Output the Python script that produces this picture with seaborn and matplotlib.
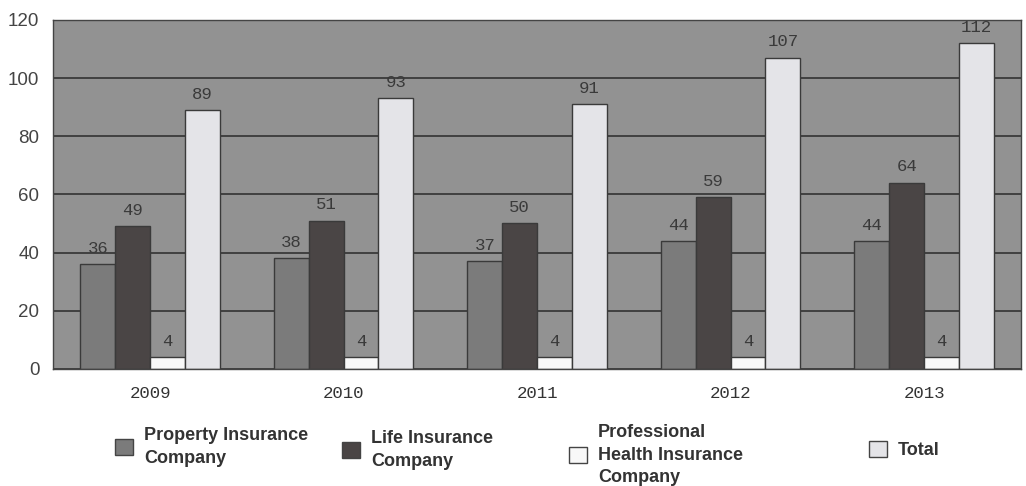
import numpy as np
import matplotlib as mpl
mpl.use('Agg')

import matplotlib.pyplot as plt
import seaborn as sns
import pandas as pd
from matplotlib.patches import Patch

# values
years = ['2009', '2010', '2011', '2012', '2013']
property_ins = [36, 38, 37, 44, 44]
life_ins = [49, 51, 50, 59, 64]
health_ins = [4, 4, 4, 4, 4]
total = [89, 93, 91, 107, 112]
series = ['Property Insurance\nCompany', 'Life Insurance\nCompany',
          'Professional\nHealth Insurance\nCompany', 'Total']
colors = ['#7b7b7b', '#4a4545', '#f8f8f8', '#e4e4e8']

df = pd.DataFrame({
    'Year': years * 4,
    'Value': property_ins + life_ins + health_ins + total,
    'Series': np.repeat(series, len(years)),
})

sns.set_style('white')
fig = plt.figure(figsize=(10.26, 4.86), dpi=100)
ax = fig.add_axes([0.052, 0.241, 0.943, 0.718])
ax.set_facecolor('#929292')

sns.barplot(data=df, x='Year', y='Value', hue='Series', hue_order=series,
            palette=colors, width=0.72, gap=0, edgecolor='#3a3a3a',
            linewidth=1, ax=ax, legend=False, saturation=1)

for cont in ax.containers:
    ax.bar_label(cont, padding=6, fontsize=12.5, family='Liberation Mono', color='#3a3a3a')

ax.set_ylim(0, 120)
ax.set_yticks(range(0, 121, 20))
ax.set_xlim(-0.5, 4.5)
ax.yaxis.grid(True, color='#3a3a3a', lw=1.3)
ax.set_axisbelow(True)
ax.set_xlabel('')
ax.set_ylabel('')

ax.tick_params(axis='y', length=0, pad=10, labelsize=13.5, labelcolor='#444444')
ax.tick_params(axis='x', length=0, pad=12, labelsize=12.5, labelcolor='#333333')
for lbl in ax.get_xticklabels():
    lbl.set_family('Liberation Mono')
for lbl in ax.get_yticklabels():
    lbl.set_family('Liberation Sans')
ax.set_xticks([0.5, 1.5, 2.5, 3.5], minor=True)
ax.tick_params(axis='x', which='minor', direction='in', length=5, color='#3a3a3a')

for sp in ax.spines.values():
    sp.set_color('#444444')
    sp.set_linewidth(1)

# legend entries spaced out along the bottom
legend_pos = [(115, 447), (342, 450), (569, 455), (869, 450)]
for name, col, (px, py) in zip(series, colors, legend_pos):
    leg = fig.legend(handles=[Patch(facecolor=col, edgecolor='#444444', lw=1)],
                     labels=[name], loc='center left',
                     bbox_to_anchor=(px / 1026, 1 - py / 486), frameon=False,
                     borderpad=0, borderaxespad=0, handlelength=1.0,
                     handleheight=1.0, handletextpad=0.6,
                     prop={'family': 'Liberation Sans', 'weight': 'bold', 'size': 13})
    for t in leg.get_texts():
        t.set_color('#333333')
        t.set_linespacing(1.45)

plt.savefig('out.png', dpi=100)
plt.close()
